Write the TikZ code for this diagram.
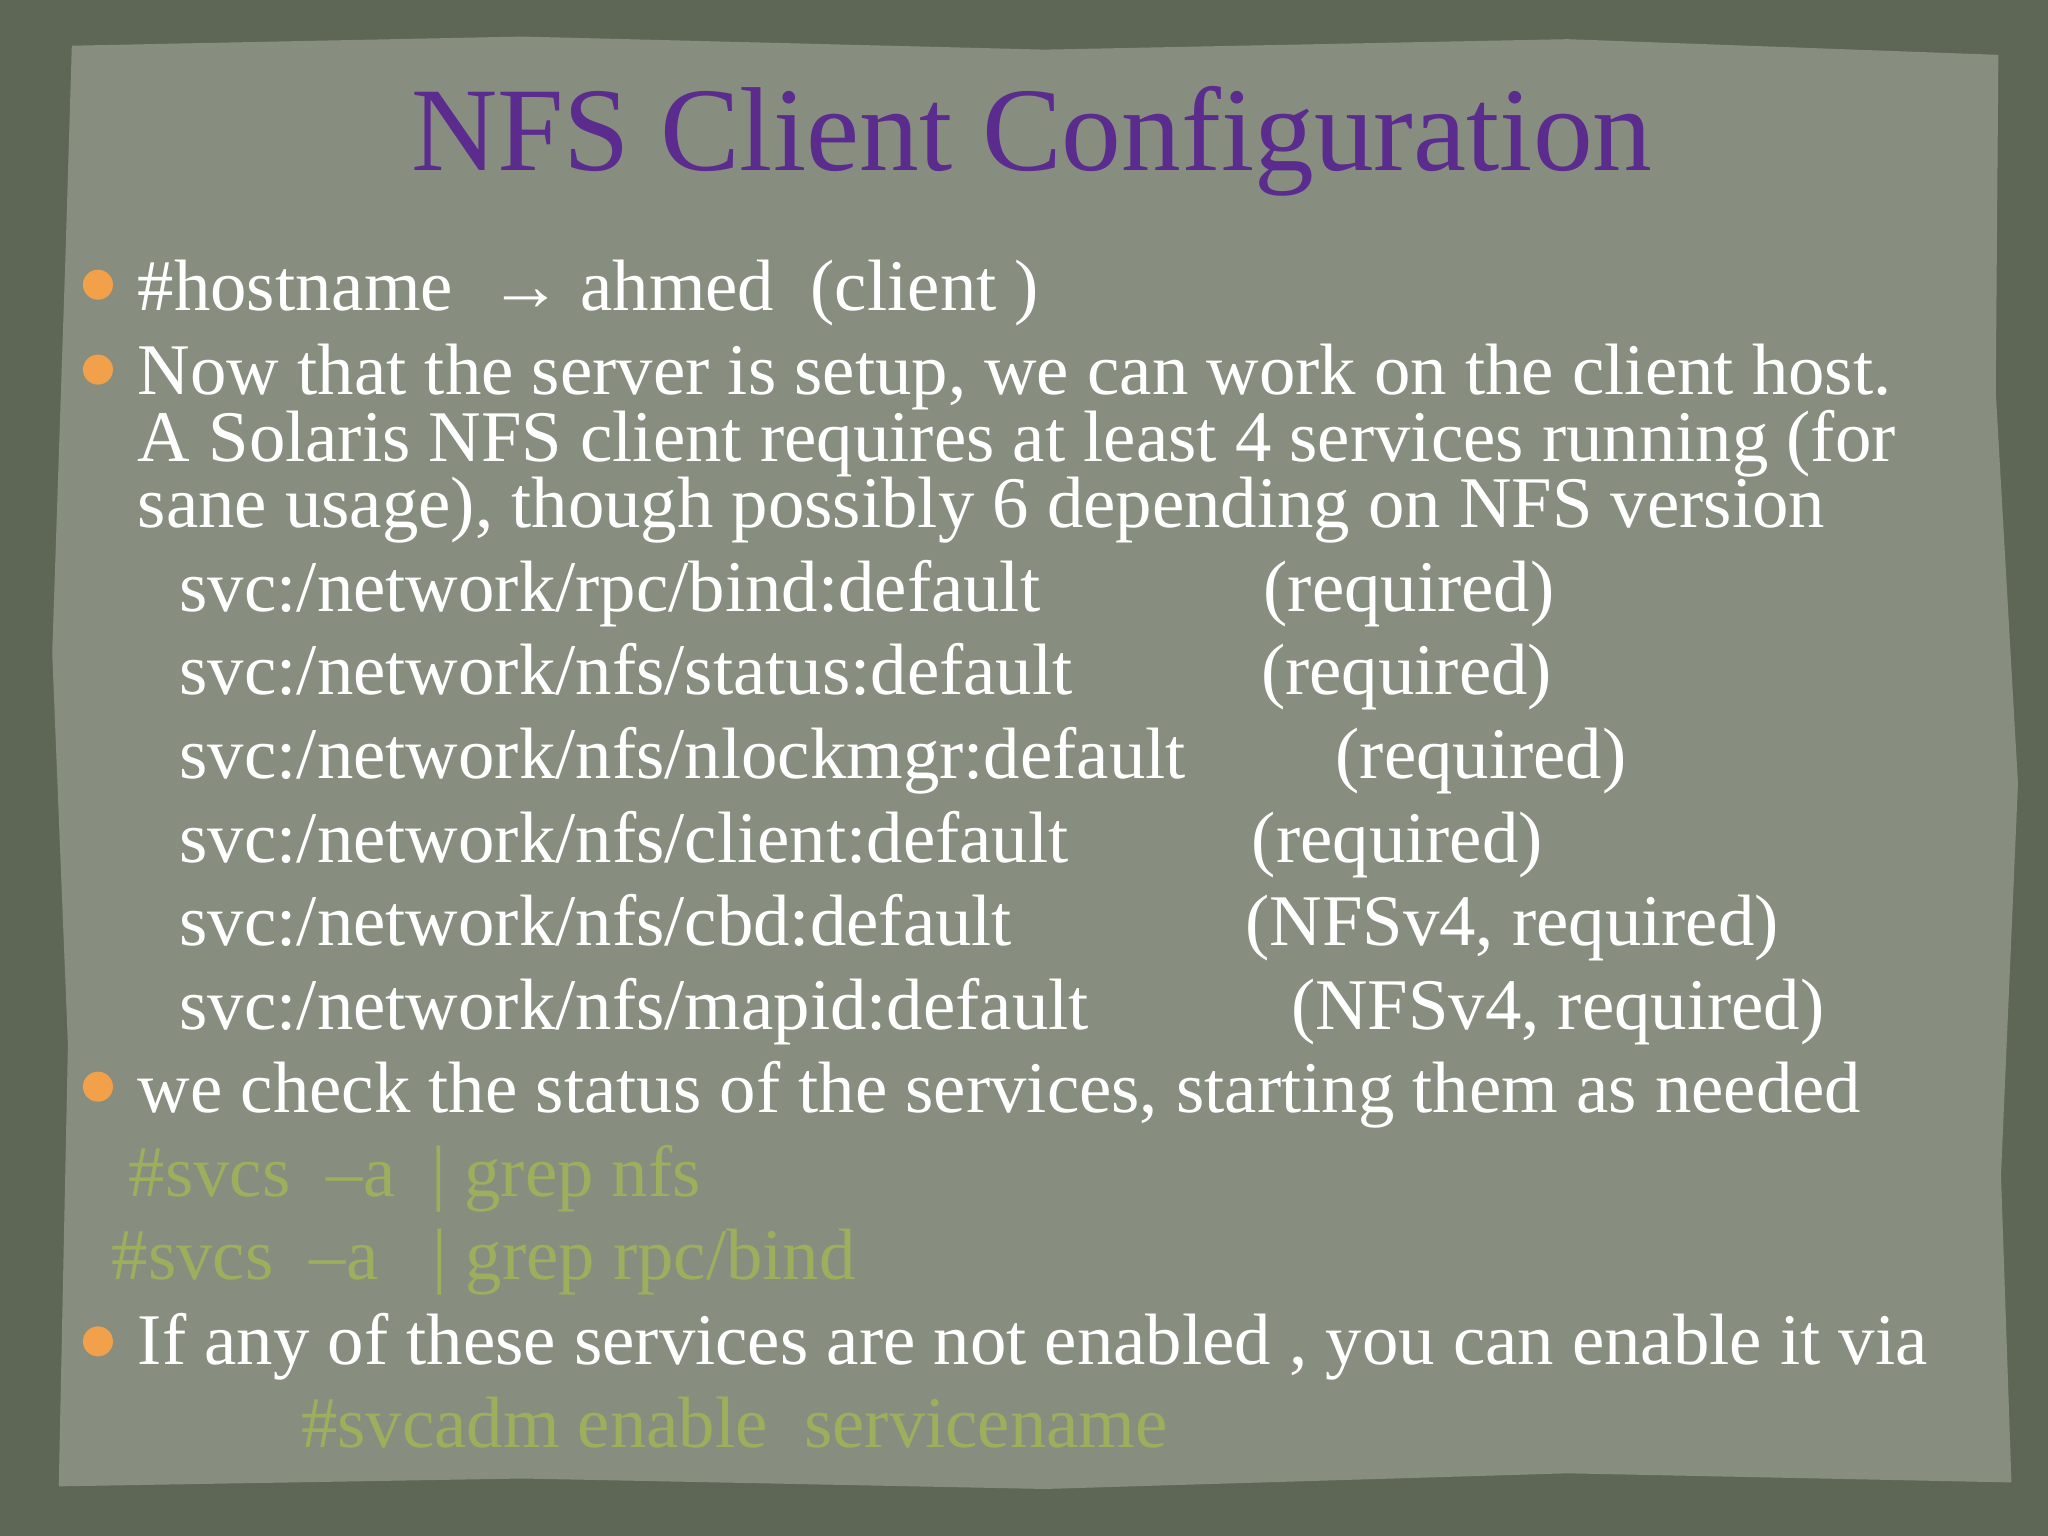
\documentclass[tikz,border=0pt]{standalone}
\usepackage{fontspec}
\setmainfont{Liberation Serif}
\definecolor{frame}{HTML}{5E6656}
\definecolor{paper}{HTML}{878E80}
\definecolor{ttl}{HTML}{5B2C8E}
\definecolor{bul}{HTML}{F2A04A}
\definecolor{cmd}{HTML}{9DAE5C}
\begin{document}
\begin{tikzpicture}[x=0.01306cm,y=-0.01306cm,
  body/.style={anchor=base west,inner sep=0pt,text=white,font=\fontsize{20.7}{25}\selectfont},
  code/.style={anchor=base west,inner sep=0pt,text=cmd,font=\fontsize{20.7}{25}\selectfont},
  dot/.style={circle,fill=bul,minimum size=0.3cm,inner sep=0pt}]
\useasboundingbox (0,0) rectangle (1568,1176);
\fill[frame] (0,0) rectangle (1568,1176);
\fill[paper] (55,35) -- (400,28) -- (800,38) -- (1200,30) -- (1530,42) -- (1528,300) -- (1545,600) -- (1532,900) -- (1540,1135) -- (1200,1128) -- (800,1140) -- (400,1132) -- (45,1138) -- (52,800) -- (40,500) -- (50,200) -- cycle;
\node[text=ttl,font=\fontsize{34}{38}\selectfont] (title) at (790,108) {NFS Client Configuration};
\node[dot] (b1) at (75,218) {};
\node[body] (l1) at (105,238) {\#hostname\ \ → ahmed\ \ (client )};
\node[dot] (b2) at (75,283) {};
\node[body] (l2) at (105,302) {Now that the server is setup, we can work on the client host.};
\node[body] (l3) at (105,353) {A Solaris NFS client requires at least 4 services running (for};
\node[body] (l4) at (105,404) {sane usage), though possibly 6 depending on NFS version};
\node[body] (s1) at (137,468) {svc:/network/rpc/bind:default};
\node[body] (r1) at (967,468) {(required)};
\node[body] (s2) at (137,532) {svc:/network/nfs/status:default};
\node[body] (r2) at (965,532) {(required)};
\node[body] (s3) at (137,596) {svc:/network/nfs/nlockmgr:default};
\node[body] (r3) at (1022,596) {(required)};
\node[body] (s4) at (137,660) {svc:/network/nfs/client:default};
\node[body] (r4) at (958,660) {(required)};
\node[body] (s5) at (137,724) {svc:/network/nfs/cbd:default};
\node[body] (r5) at (953,724) {(NFSv4, required)};
\node[body] (s6) at (137,788) {svc:/network/nfs/mapid:default};
\node[body] (r6) at (988,788) {(NFSv4, required)};
\node[dot] (b3) at (75,832) {};
\node[body] (l5) at (105,852) {we check the status of the services, starting them as needed};
\node[code] (c1) at (98,916) {\#svcs\ \ –a\ \ | grep nfs};
\node[code] (c2) at (85,980) {\#svcs\ \ –a\ \ \ | grep rpc/bind};
\node[dot] (b4) at (75,1027) {};
\node[body] (l6) at (105,1045) {If any of these services are not enabled , you can enable it via};
\node[code] (c3) at (230,1108) {\#svcadm enable\ \ servicename};
\end{tikzpicture}
\end{document}
